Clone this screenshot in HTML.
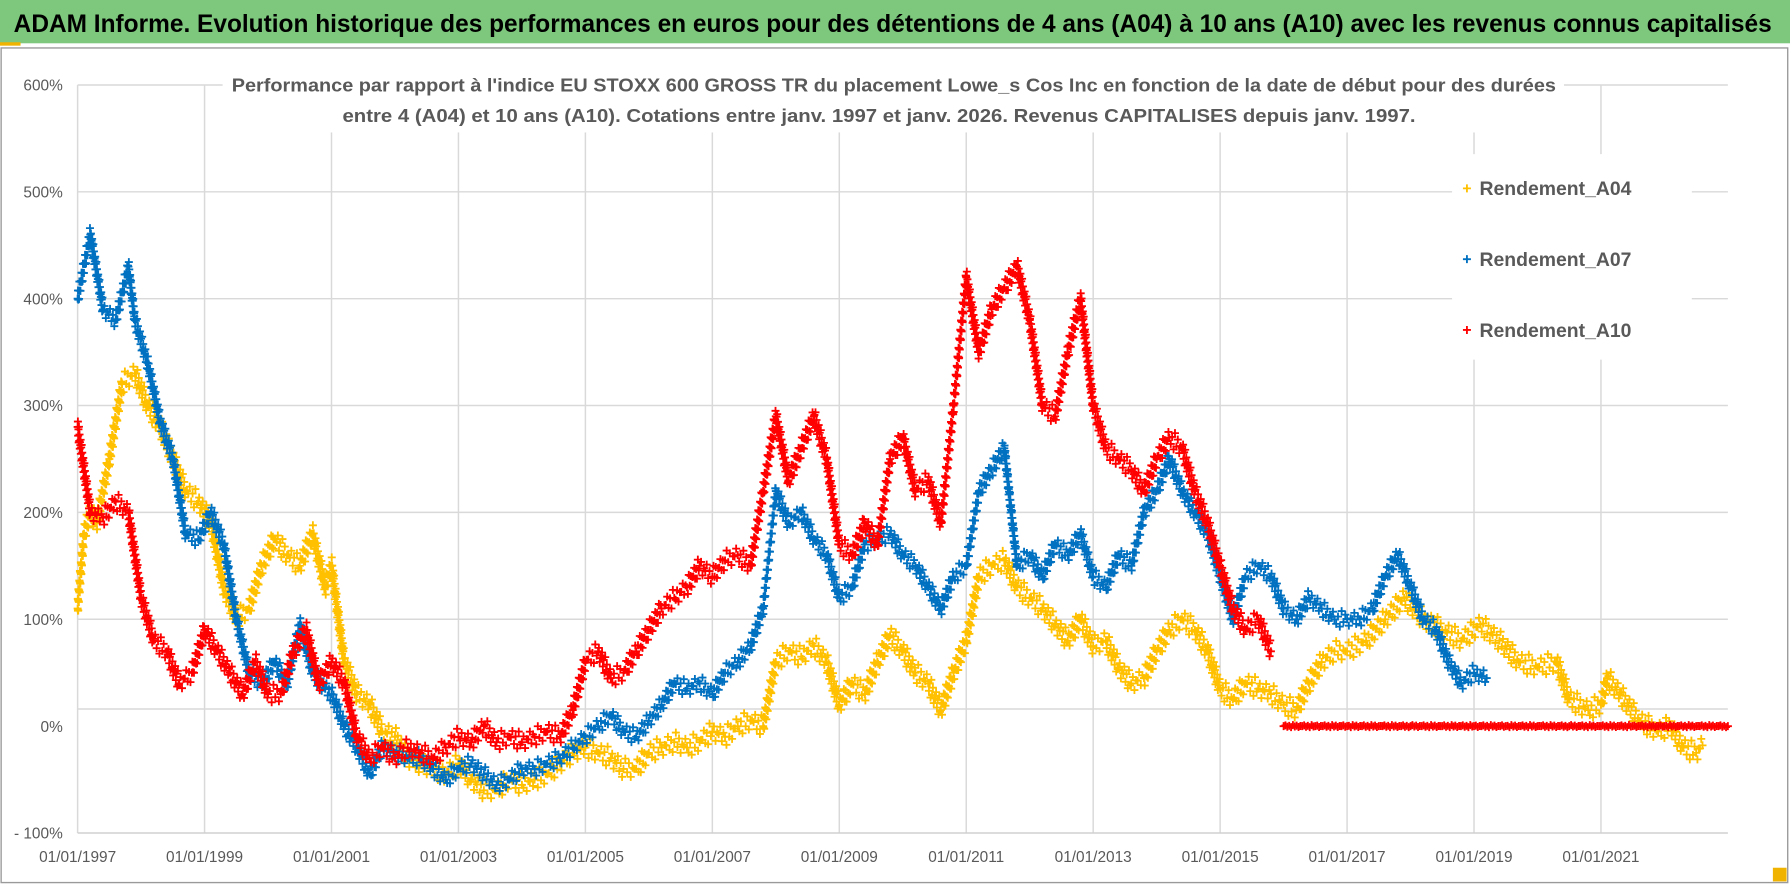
<!DOCTYPE html>
<html><head><meta charset="utf-8">
<style>
html,body{margin:0;padding:0;background:#fff;}
svg{display:block;}
text{font-family:"Liberation Sans Narrow","Liberation Sans",sans-serif;}
</style></head>
<body>
<svg id="chart" width="1790" height="886" viewBox="0 0 1568 776" preserveAspectRatio="none" xmlns="http://www.w3.org/2000/svg">
  <rect x="0" y="0" width="1568" height="776" fill="#ffffff"/>
  <rect x="0" y="0" width="1568" height="38" fill="#7dc87d"/>
  <rect x="0" y="38" width="1568" height="2" fill="#ffffff"/>
  <rect x="0" y="37" width="18" height="3" fill="#f0b400"/>
  <text x="12" y="28" font-size="22" font-weight="bold" fill="#000" textLength="1540" lengthAdjust="spacingAndGlyphs">ADAM Informe. Evolution historique des performances en euros pour des détentions de 4 ans (A04) à 10 ans (A10) avec les revenus connus capitalisés</text>
  <rect x="1" y="42" width="1565" height="731" fill="none" stroke="#9a9a9a" stroke-width="1.2"/>
  <rect x="1553" y="760" width="12" height="12" fill="#f0b400"/>
  <g id="grid"></g>
  <g id="axes"></g>
  <g id="marks"></g>
  <rect x="195" y="58" width="1175" height="58" fill="#fff"/>
  <text x="783" y="80" text-anchor="middle" font-size="16.5" font-weight="bold" fill="#595959" textLength="1160" lengthAdjust="spacingAndGlyphs">Performance par rapport à l'indice EU STOXX 600 GROSS TR  du placement Lowe_s Cos Inc en fonction de la date de début pour des durées</text>
  <text x="770" y="107" text-anchor="middle" font-size="16.5" font-weight="bold" fill="#595959" textLength="940" lengthAdjust="spacingAndGlyphs">entre 4 (A04) et 10 ans (A10).  Cotations entre janv. 1997 et janv. 2026. Revenus CAPITALISES depuis janv. 1997.</text>
  <g id="legend"></g>
</svg>
<script>
// ---- data ----
const yTicks = [600, 500, 400, 300, 200, 100, 0, -100];
const yTickLabels = ["600%", "500%", "400%", "300%", "200%", "100%", "0%", "- 100%"];
const xTickYears = [1997, 1999, 2001, 2003, 2005, 2007, 2009, 2011, 2013, 2015, 2017, 2019, 2021];
const xTickLabels = ["01/01/1997","01/01/1999","01/01/2001","01/01/2003","01/01/2005","01/01/2007","01/01/2009","01/01/2011","01/01/2013","01/01/2015","01/01/2017","01/01/2019","01/01/2021"];
const seriesNames = ["Rendement_A04", "Rendement_A07", "Rendement_A10"];

const a04Years = [1997.0,1997.1,1997.2,1997.3,1997.5,1997.7,1997.9,1998.1,1998.3,1998.5,1998.7,1998.9,1999.1,1999.3,1999.5,1999.7,1999.9,2000.1,2000.3,2000.5,2000.7,2000.9,2001.0,2001.2,2001.4,2001.6,2001.8,2002.0,2002.2,2002.4,2002.6,2002.8,2003.0,2003.2,2003.4,2003.6,2003.8,2004.0,2004.2,2004.4,2004.6,2004.8,2005.0,2005.2,2005.4,2005.6,2005.8,2006.0,2006.2,2006.4,2006.6,2006.8,2007.0,2007.2,2007.4,2007.6,2007.8,2008.0,2008.2,2008.4,2008.6,2008.8,2009.0,2009.2,2009.4,2009.6,2009.8,2010.0,2010.2,2010.4,2010.6,2010.8,2011.0,2011.2,2011.4,2011.6,2011.8,2012.0,2012.2,2012.4,2012.6,2012.8,2013.0,2013.2,2013.4,2013.6,2013.8,2014.0,2014.2,2014.4,2014.6,2014.8,2015.0,2015.2,2015.4,2015.6,2015.8,2016.0,2016.2,2016.4,2016.6,2016.8,2017.0,2017.3,2017.6,2017.9,2018.2,2018.5,2018.8,2019.1,2019.4,2019.7,2020.0,2020.3,2020.5,2020.8,2021.0,2021.1,2021.3,2021.6,2021.9,2022.1,2022.3,2022.5,2022.6];
const a04Values = [110,180,200,190,250,320,330,300,280,250,220,210,190,130,100,110,150,175,160,150,180,130,150,60,30,20,-5,-10,-30,-35,-40,-45,-35,-50,-60,-60,-50,-55,-50,-45,-35,-25,-20,-25,-30,-40,-40,-25,-20,-15,-20,-15,-5,-10,0,5,0,60,70,65,75,60,20,40,30,60,85,70,50,40,15,50,80,140,150,155,130,120,110,95,80,100,75,80,55,40,45,70,90,100,90,70,35,25,40,35,30,20,15,40,60,70,70,80,100,120,100,90,80,95,80,60,55,60,25,15,20,45,30,5,-5,0,-20,-25,-18];

const a07Years = [1997.0,1997.2,1997.4,1997.6,1997.8,1997.9,1998.1,1998.3,1998.5,1998.7,1998.9,1999.1,1999.3,1999.5,1999.7,1999.9,2000.1,2000.3,2000.5,2000.7,2000.9,2001.0,2001.2,2001.4,2001.6,2001.8,2002.0,2002.2,2002.4,2002.6,2002.8,2003.0,2003.2,2003.4,2003.6,2003.8,2004.0,2004.2,2004.4,2004.6,2004.8,2005.0,2005.2,2005.4,2005.6,2005.8,2006.0,2006.2,2006.4,2006.6,2006.8,2007.0,2007.2,2007.4,2007.6,2007.8,2008.0,2008.2,2008.4,2008.6,2008.8,2009.0,2009.2,2009.4,2009.6,2009.8,2010.0,2010.2,2010.4,2010.6,2010.8,2011.0,2011.2,2011.4,2011.6,2011.8,2012.0,2012.2,2012.4,2012.6,2012.8,2013.0,2013.2,2013.4,2013.6,2013.8,2014.0,2014.2,2014.4,2014.6,2014.8,2015.0,2015.2,2015.4,2015.6,2015.8,2016.0,2016.2,2016.4,2016.6,2016.8,2017.0,2017.2,2017.4,2017.6,2017.8,2018.0,2018.2,2018.4,2018.6,2018.8,2019.0,2019.2];
const a07Values = [400,460,390,380,430,380,340,285,250,180,175,200,170,100,50,40,60,40,95,50,35,30,0,-20,-45,-20,-25,-30,-30,-40,-50,-40,-35,-45,-55,-50,-40,-40,-35,-30,-20,-10,0,10,-5,-10,5,20,40,35,40,30,50,60,75,110,220,190,200,175,160,120,130,170,175,180,160,150,130,110,140,150,220,240,260,150,160,140,170,160,180,140,130,160,150,200,220,250,220,200,180,140,100,140,150,140,110,100,120,110,100,100,100,110,140,160,130,100,90,60,40,50,45];

const a10Years = [1997.0,1997.2,1997.4,1997.6,1997.8,1998.0,1998.2,1998.4,1998.6,1998.8,1999.0,1999.2,1999.4,1999.6,1999.8,2000.0,2000.2,2000.4,2000.6,2000.8,2001.0,2001.2,2001.4,2001.6,2001.8,2002.0,2002.2,2002.4,2002.6,2002.8,2003.0,2003.2,2003.4,2003.6,2003.8,2004.0,2004.2,2004.4,2004.6,2004.8,2005.0,2005.2,2005.4,2005.6,2005.8,2006.0,2006.2,2006.4,2006.6,2006.8,2007.0,2007.2,2007.4,2007.6,2007.8,2008.0,2008.2,2008.4,2008.6,2008.8,2009.0,2009.2,2009.4,2009.6,2009.8,2010.0,2010.2,2010.4,2010.6,2010.8,2011.0,2011.2,2011.4,2011.6,2011.8,2012.0,2012.2,2012.4,2012.6,2012.8,2013.0,2013.2,2013.4,2013.6,2013.8,2014.0,2014.2,2014.4,2014.6,2014.8,2015.0,2015.2,2015.4,2015.6,2015.8];
const a10Values = [280,200,195,210,200,120,80,70,40,50,90,70,50,30,60,30,30,70,90,40,60,40,-10,-30,-20,-30,-20,-25,-30,-20,-10,-15,0,-15,-10,-15,-10,-5,-10,15,60,70,45,50,70,90,110,120,130,150,140,155,160,150,220,290,230,260,290,250,170,160,190,170,250,270,220,230,190,300,420,350,390,410,430,380,300,290,350,400,300,260,250,240,220,250,270,260,220,190,150,110,90,100,70];
const a10FlatYears = [2016.0,2016.5,2017.0,2017.5,2018.0,2018.5,2019.0,2019.5,2020.0,2020.5,2021.0,2021.5,2022.0,2022.5,2023.0];
const a10FlatValues = [0,0,0,0,0,0,0,0,0,0,0,0,0,0,0];

const seriesColors = ["#ffc000", "#0070c0", "#ff0000"];

// ---- axes ----
const X0 = 68, XPERYEAR = 55.6, Y0 = 636, YPER = 0.936;
function xScale(yr){ return X0 + (yr - 1997) * XPERYEAR; }
function yScale(v){ return Y0 - v * YPER; }
const NS = "http://www.w3.org/2000/svg";
function mk(tag, attrs, parent){ const e = document.createElementNS(NS, tag); for (const k in attrs) e.setAttribute(k, attrs[k]); parent.appendChild(e); return e; }

const grid = document.getElementById('grid');
const axes = document.getElementById('axes');
const marks = document.getElementById('marks');
const plotLeft = xScale(1997), plotRight = xScale(2023);

yTicks.forEach((t, i) => {
  let gy = yScale(t);
  if (t === 0) gy = 621;
  if (t !== -100) {
    const gl = mk('line', {x1: plotLeft, x2: plotRight, y1: gy, y2: gy, stroke: '#d9d9d9', 'stroke-width': 1.3}, grid);
    
    
  }
  const lb = mk('text', {x: 55, y: yScale(t) + 5, 'text-anchor': 'end', 'font-size': 13.5, fill: '#595959'}, axes);
  lb.textContent = yTickLabels[i];
  
  
});
xTickYears.forEach((yr, i) => {
  const gx = xScale(yr);
  const gl = mk('line', {x1: gx, x2: gx, y1: yScale(600), y2: yScale(-100), stroke: '#d9d9d9', 'stroke-width': 1.3}, grid);
  
  
  const lb = mk('text', {x: gx, y: 755, 'text-anchor': 'middle', 'font-size': 13.5, fill: '#595959'}, axes);
  lb.textContent = xTickLabels[i];
  
  
});
const xl = mk('line', {x1: plotLeft, x2: plotRight, y1: yScale(-100), y2: yScale(-100), stroke: '#d0d0d0', 'stroke-width': 1.3}, axes);



// ---- marks ----
const spreadPattern = [0, -7, 5, -3, 8, -9, 3, -5, 7, -1];
function plus(x, y, color, parent){ return mk('path', {d: `M${x-3.5},${y}h7M${x},${y-3.5}v7`, stroke: color, 'stroke-width': 1.6, fill: 'none'}, parent); }
function drawSeries(years, values, color, name, spread){
  const g = mk('g', {}, marks);
  
  
  let c = 0;
  for (let i = 0; i < years.length; i++){
    const x = xScale(years[i]), y = yScale(values[i]);
    plus(x, y, color, g);
    if (i + 1 < years.length){
      const x2 = xScale(years[i+1]), y2 = yScale(values[i+1]);
      const n = Math.max(1, Math.round(Math.hypot(x2 - x, y2 - y) / 1.6));
      for (let k = 1; k < n; k++){
        const f = k / n;
        c++;
        plus(x + (x2 - x) * f, y + (y2 - y) * f + spreadPattern[c % spreadPattern.length] * spread, color, g);
      }
    }
  }
}
drawSeries(a04Years, a04Values, seriesColors[0], 'series-a04', 1);
drawSeries(a07Years, a07Values, seriesColors[1], 'series-a07', 0.8);
drawSeries(a10Years, a10Values, seriesColors[2], 'series-a10', 0.9);
drawSeries(a10FlatYears, a10FlatValues, seriesColors[2], 'series-a10-flat', 0.1);

// ---- legend ----
const legend = document.getElementById('legend');
mk('rect', {x: 1272, y: 135, width: 210, height: 180, fill: '#fff'}, legend);
seriesNames.forEach((nm, i) => {
  const ly = 165 + i * 62;
  const m = plus(1285, ly, seriesColors[i], legend);
  
  
  const t = mk('text', {x: 1296, y: ly + 6, 'font-size': 17, 'font-weight': 'bold', fill: '#595959'}, legend);
  t.textContent = nm;
  
  
});
</script>
</body></html>
